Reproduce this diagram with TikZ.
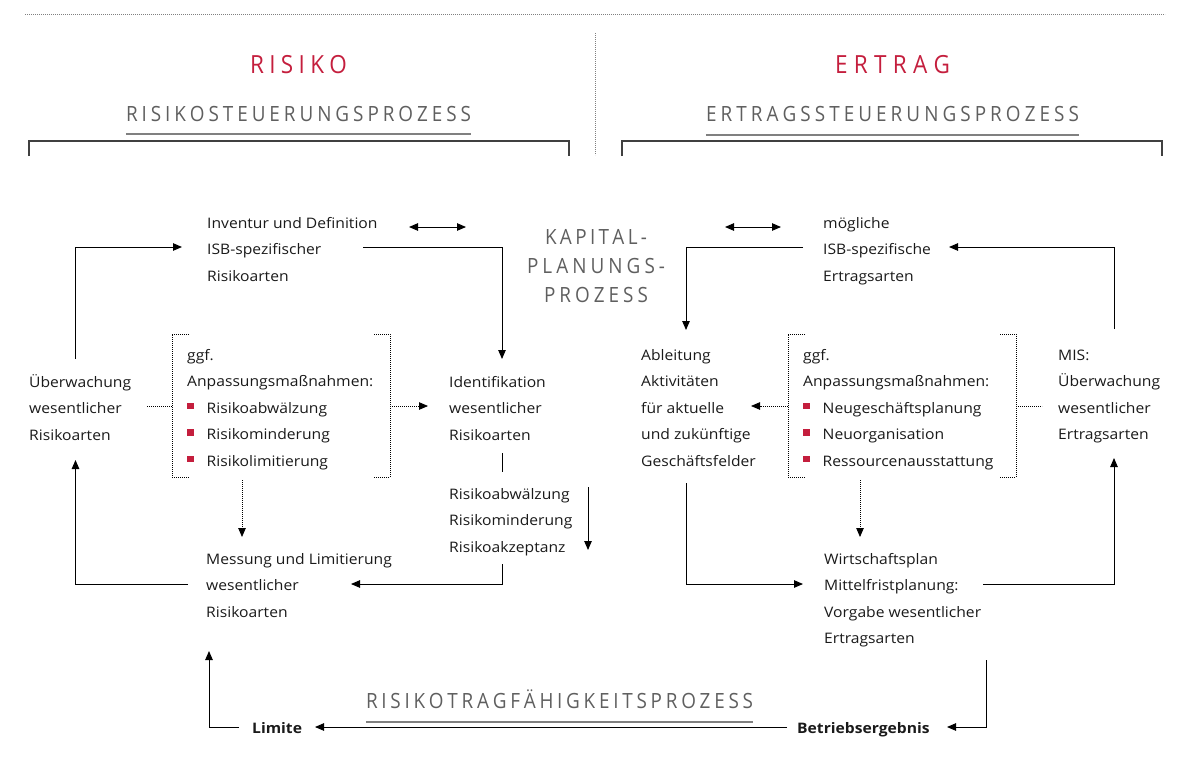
\documentclass[tikz,border=0pt]{standalone}
\usepackage{fontspec}
\setmainfont{Open Sans}[FakeStretch=1.08]
\newfontfamily\headfont{Open Sans}[FakeStretch=0.9]
\usepackage{xcolor}
\usepackage{tikz}
\usetikzlibrary{arrows.meta}
\usetikzlibrary{calc}
\definecolor{isbred}{HTML}{C41E3D}
\definecolor{headgray}{HTML}{5F5F5F}
\definecolor{linegray}{HTML}{808080}
\definecolor{textblack}{HTML}{1A1A1A}
\newcommand\spaced[2]{{\spaceskip=0pt plus 1fil\relax\makebox[#1][s]{#2}}}
\newcommand\bul{\makebox[19.5pt][l]{\textcolor{isbred}{\rule[4pt]{6.5pt}{6.5pt}}}}
\tikzset{
  >={Triangle[length=9pt,width=7.5pt]},
  txt/.style={anchor=north west, inner sep=0pt, align=left, text=textblack,
    font=\fontsize{14.5}{26.5}\selectfont},
  title/.style={anchor=base, inner sep=0pt, text=isbred,
    font=\headfont\fontsize{25}{30}\selectfont},
  sub/.style={anchor=base, inner sep=0pt, text=headgray,
    font=\headfont\fontsize{21}{29}\selectfont},
  conn/.style={line width=1pt, black},
  dotconn/.style={line width=0.8pt, black, dash pattern=on 0.8pt off 1.2pt},
  topline/.style={line width=0.8pt, linegray, dash pattern=on 0.8pt off 1.2pt},
  uline/.style={line width=2pt, linegray},
  bracket/.style={line width=1.2pt, black!75}
}
\begin{document}
\begin{tikzpicture}[x=1pt,y=-1pt]
  \useasboundingbox (0,0) rectangle (1177,769);
  % headings
  \draw[topline] (25,14) -- (1165,14);
  \draw[topline] (595,33) -- (595,155);
  \node[title] (risiko) at (298.5,73) {\spaced{97pt}{R I S I K O}};
  \node[title] (ertrag) at (892.5,73) {\spaced{115pt}{E R T R A G}};
  \node[sub] (rsp) at (298.5,121) {\spaced{345pt}{R I S I K O S T E U E R U N G S P R O Z E S S}};
  \node[sub] (esp) at (892.5,121) {\spaced{373pt}{E R T R A G S S T E U E R U N G S P R O Z E S S}};
  \draw[uline] ($(rsp.base west)+(0,13)$) -- ($(rsp.base east)+(0,13)$);
  \draw[uline] ($(esp.base west)+(0,14)$) -- ($(esp.base east)+(0,14)$);
  \draw[bracket] (29,156) -- (29,141) -- (569,141) -- (569,156);
  \draw[bracket] (622,156) -- (622,141) -- (1162,141) -- (1162,156);
  \node[sub, anchor=north, align=center] (kap) at (596,223.7)
    {\strut\spaced{102pt}{K A P I T A L -}\\\spaced{138pt}{P L A N U N G S -}\\\spaced{104pt}{P R O Z E S S}};

  % risk side
  \node[txt] (inv) at (207,209.5) {\strut Inventur und Definition\\ISB-spezifischer\\Risikoarten};
  \node[txt] (ueb) at (29,368.5) {\strut Überwachung\\wesentlicher\\Risikoarten};
  \node[txt] (ggfL) at (187,341.5) {\strut ggf.\\Anpassungsmaßnahmen:\\\bul Risikoabwälzung\\\bul Risikominderung\\\bul Risikolimitierung};
  \node[txt] (ident) at (449,368.5) {\strut Identifikation\\wesentlicher\\Risikoarten};
  \node[txt] (mass) at (449,480.5) {\strut Risikoabwälzung\\Risikominderung\\Risikoakzeptanz};
  \node[txt] (mess) at (206,545.5) {\strut Messung und Limitierung\\wesentlicher\\Risikoarten};

  % income side
  \node[txt] (moegl) at (823,209.5) {\strut mögliche\\ISB-spezifische\\Ertragsarten};
  \node[txt] (ableit) at (641,341.5) {\strut Ableitung\\Aktivitäten\\für aktuelle\\und zukünftige\\Geschäftsfelder};
  \node[txt] (ggfR) at (803,341.5) {\strut ggf.\\Anpassungsmaßnahmen:\\\bul Neugeschäftsplanung\\\bul Neuorganisation\\\bul Ressourcenausstattung};
  \node[txt] (mis) at (1058,341.5) {\strut MIS:\\Überwachung\\wesentlicher\\Ertragsarten};
  \node[txt] (wirt) at (824,545.5) {\strut Wirtschaftsplan\\Mittelfristplanung:\\Vorgabe wesentlicher\\Ertragsarten};

  % bottom
  \node[txt] (limite) at (252,714.5) {\strut\bfseries Limite};
  \node[txt] (betr) at (797,714.5) {\strut\bfseries Betriebsergebnis};
  \node[sub] (rtp) at (559.5,708) {\spaced{387pt}{R I S I K O T R A G F Ä H I G K E I T S P R O Z E S S}};
  \draw[uline] ($(rtp.base west)+(0,14)$) -- ($(rtp.base east)+(0,14)$);

  % dotted brackets
  \draw[dotconn] ($(ggfL.north west)+(2,-7.5)$) -- ++(-17,0) -- ++(0,143) -- ++(17,0);
  \draw[dotconn] ($(ggfL.north west)+(187,-7.5)$) -- ++(16,0) -- ++(0,143) -- ++(-16,0);
  \draw[dotconn] ($(ggfR.north west)+(2,-7.5)$) -- ++(-17,0) -- ++(0,143) -- ++(17,0);
  \draw[dotconn] ($(ggfR.north west)+(197,-7.5)$) -- ++(16,0) -- ++(0,143) -- ++(-16,0);

  % risk loop
  \draw[conn,->] ($(ueb.north west)+(46.5,-9.5)$) |- ($(inv.north west)+(-25,37.5)$);
  \draw[conn,->] ($(inv.north west)+(156,37.5)$) -| ($(ident.north west)+(53,-9.5)$);
  \draw[conn] ($(ident.north west)+(53,84.5)$) -- ($(mass.north west)+(53,-8.5)$);
  \draw[conn,->] ($(mass.north west)+(139,6.5)$) -- ++(0,63);
  \draw[conn,->] ($(mass.north west)+(53,83.5)$) |- ($(mess.north west)+(145,38.5)$);
  \draw[conn,->] ($(mess.north west)+(-18,38.5)$) -| ($(ueb.north west)+(46.5,91.5)$);
  \draw[dotconn] ($(ueb.north west)+(118,37.5)$) -- ($(ggfL.north west)+(-15,64.5)$);
  \draw[dotconn,->] ($(ggfL.north west)+(203,64.5)$) -- ($(ident.north west)+(-21,37.5)$);
  \draw[dotconn,->] ($(ggfL.north west)+(55,138.5)$) -- ($(mess.north west)+(36,-8.5)$);

  % capital planning
  \draw[conn,<->] ($(inv.north west)+(202,17.5)$) -- ++(57,0);
  \draw[conn,<->] ($(moegl.north west)+(-98,17.5)$) -- ++(56,0);

  % income loop
  \draw[conn,->] ($(moegl.north west)+(-20,37.5)$) -| ($(ableit.north west)+(45,-11.5)$);
  \draw[conn,->] ($(mis.north west)+(56,-12.5)$) |- ($(moegl.north west)+(126,37.5)$);
  \draw[conn,->] ($(ableit.north west)+(45,141.5)$) |- ($(wirt.north west)+(-21,38.5)$);
  \draw[conn,->] ($(wirt.north west)+(159,38.5)$) -| ($(mis.north west)+(56,116.5)$);
  \draw[dotconn,->] ($(ggfR.north west)+(-15,64.5)$) -- ($(ableit.north west)+(110,64.5)$);
  \draw[dotconn] ($(ggfR.north west)+(213,64.5)$) -- ($(mis.north west)+(-16,64.5)$);
  \draw[dotconn,->] ($(ggfR.north west)+(57,138.5)$) -- ($(wirt.north west)+(36,-8.5)$);

  % risk-bearing capacity
  \draw[conn,->] ($(wirt.north west)+(162,114.5)$) |- ($(betr.north west)+(150,12.5)$);
  \draw[conn,->] ($(betr.north west)+(-10,12.5)$) -- ($(limite.north west)+(63,12.5)$);
  \draw[conn,->] ($(limite.north west)+(-13,12.5)$) -| ($(mess.north west)+(3,105.5)$);
\end{tikzpicture}
\end{document}
